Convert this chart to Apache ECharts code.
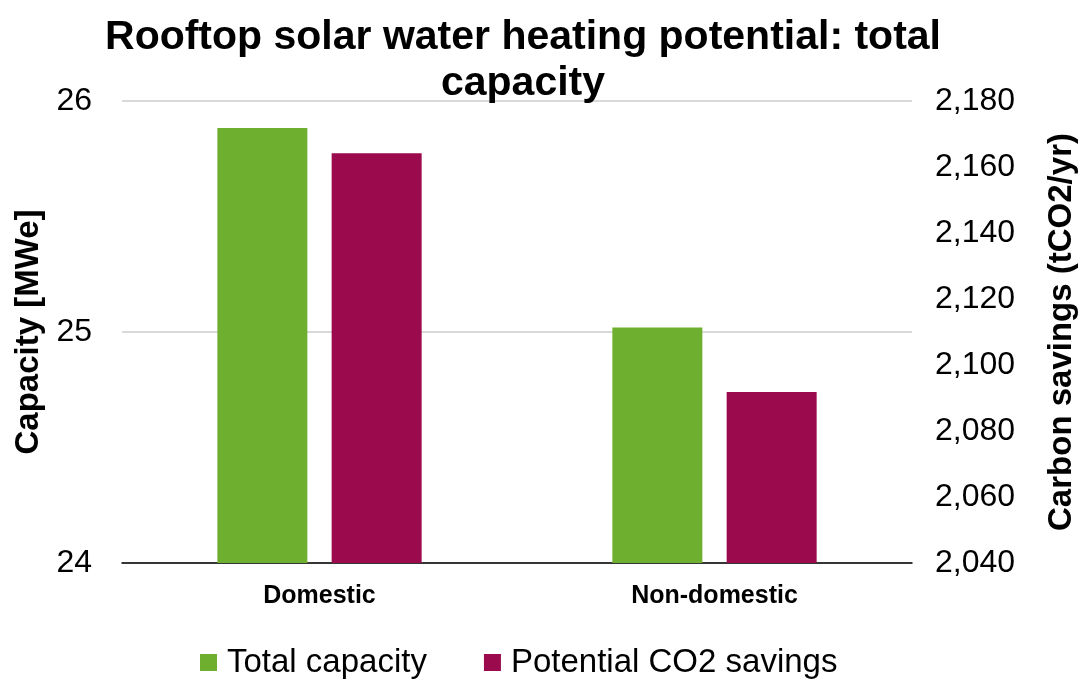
<!DOCTYPE html>
<html><head><meta charset="utf-8">
<script src="https://cdn.jsdelivr.net/npm/echarts@6/dist/echarts.min.js"></script>
<style>html,body{margin:0;padding:0;background:#fff}#c{width:1080px;height:682px}</style>
</head><body><div id="c"></div>
<script>
const categories = ['Domestic', 'Non-domestic'];
const totalCapacity = [25.883, 25.02];
const co2Savings = [2164.2, 2091.8];
const leftTicks = {min: 24, max: 26, interval: 1};
const rightTicks = {min: 2040, max: 2180, interval: 20};

const F = '"Liberation Sans", Arial, sans-serif';
const chart = echarts.init(document.getElementById('c'));
chart.setOption({
  animation: false,
  textStyle: {fontFamily: F},
  title: {
    text: 'Rooftop solar water heating potential: total\ncapacity',
    left: 518, top: 10, textAlign: 'center',
    textStyle: {fontFamily: F, fontSize: 41, fontWeight: 'bold', color: '#000', lineHeight: 46}
  },
  grid: {left: 122, right: 168, top: 101, bottom: 119, outerBoundsMode: 'none', containLabel: false},
  legend: {
    bottom: -2, left: 195, itemWidth: 17, itemHeight: 17, itemGap: 57, icon: 'rect',
    textStyle: {fontFamily: F, fontSize: 33, color: '#000', padding: [0, 0, 0, 5]},
    data: ['Total capacity', 'Potential CO2 savings']
  },
  xAxis: {
    type: 'category', data: categories,
    axisLine: {lineStyle: {color: '#000', width: 1.5}},
    axisTick: {show: false},
    axisLabel: {fontFamily: F, fontSize: 25, fontWeight: 'bold', color: '#000', margin: 21}
  },
  yAxis: [{
    type: 'value', min: leftTicks.min, max: leftTicks.max, interval: leftTicks.interval,
    name: 'Capacity [MWe]', nameLocation: 'middle', nameRotate: 90, nameGap: 76,
    nameTextStyle: {fontFamily: F, fontSize: 33, fontWeight: 'bold', color: '#000'},
    axisLine: {show: false}, axisTick: {show: false},
    axisLabel: {fontFamily: F, fontSize: 32, color: '#000', margin: 30},
    splitLine: {lineStyle: {color: '#d9d9d9', width: 2}}
  }, {
    type: 'value', min: rightTicks.min, max: rightTicks.max, interval: rightTicks.interval,
    name: 'Carbon savings (tCO2/yr)', nameLocation: 'middle', nameRotate: 90, nameGap: 133,
    nameTextStyle: {fontFamily: F, fontSize: 33, fontWeight: 'bold', color: '#000'},
    axisLine: {show: false}, axisTick: {show: false},
    axisLabel: {fontFamily: F, fontSize: 32, color: '#000', margin: 23,
      formatter: v => v.toLocaleString('en-US')},
    splitLine: {show: false}
  }],
  series: [{
    name: 'Total capacity', type: 'bar', yAxisIndex: 0, data: totalCapacity,
    barWidth: 90, barGap: '27%',
    itemStyle: {color: '#6eaf2f'}
  }, {
    name: 'Potential CO2 savings', type: 'bar', yAxisIndex: 1, data: co2Savings,
    barWidth: 90,
    itemStyle: {color: '#9b0a4c'}
  }]
});
</script></body></html>
